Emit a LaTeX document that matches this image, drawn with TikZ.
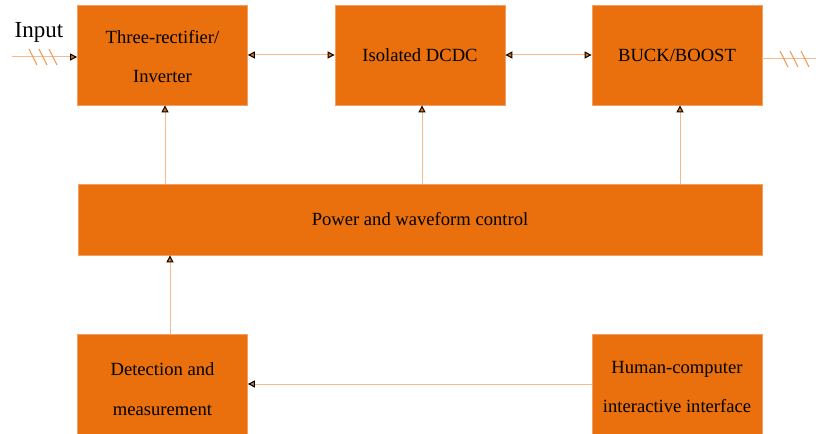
\documentclass[tikz,border=0pt]{standalone}
\usepackage{fontspec}
\setmainfont{Liberation Serif}
\usepackage{xcolor}
\usetikzlibrary{arrows.meta,calc,positioning}
\definecolor{blockfill}{RGB}{233,112,13}
\definecolor{blockedge}{RGB}{243,160,100}
\definecolor{wire}{RGB}{245,185,140}
\definecolor{hatch}{RGB}{240,150,80}
\begin{document}
\begin{tikzpicture}[x=1bp,y=-1bp,
	tip/.style={-{Triangle[length=7bp,width=7bp,fill=blockfill,color=black]}},
	twotip/.style={{Triangle[length=7bp,width=7bp,fill=blockfill,color=black]}-{Triangle[length=7bp,width=7bp,fill=blockfill,color=black]}},
	wireline/.style={draw=wire,line width=1bp},
	block/.style={draw=blockedge,fill=blockfill,line width=0.8bp,minimum width=170bp,minimum height=100bp,inner sep=0pt,align=center,font=\fontsize{18.6bp}{39.5bp}\selectfont}]
\useasboundingbox (0,0) rectangle (816,434);

\node[block](rect) at (162.5,55){\rule{0pt}{16bp}Three-rectifier/\\Inverter};
\node[block](dcdc) at (420,55){Isolated DCDC};
\node[block](buck) at (677,55){BUCK/BOOST};
\node[block,minimum width=684bp,minimum height=71bp](power) at (420,219.5){Power and waveform control};
\node[block](detect) at (162.5,384){\rule{0pt}{23bp}Detection and\\measurement};
\node[block](hci) at (677,384){\rule{0pt}{18bp}Human-computer\\interactive interface};

\node[font=\fontsize{23bp}{24bp}\selectfont,inner sep=0pt](input) at (39,32){Input};
\coordinate (in) at (12,57);
\coordinate (out) at (816,59);

\draw[wireline,tip](in)-- (in -| rect.west);
\draw[wireline](buck.east |- out)-- (out);
\foreach \x in {33,43,53}
	\draw[draw=hatch,line width=1bp]($(in)+(\x-16,-8)$)-- ($(in)+(\x-8,8)$);
\foreach \x in {-16,-6,5}
	\draw[draw=hatch,line width=1bp]($(out)+(\x-20,-8)$)-- ($(out)+(\x-12,8)$);

\draw[wireline,twotip](rect.east)-- (dcdc.west);
\draw[wireline,twotip](dcdc.east)-- (buck.west);

\draw[wireline,tip]([xshift=2.5bp]power.north -| rect.south)-- ([xshift=2.5bp]rect.south);
\draw[wireline,tip]([xshift=2bp]power.north -| dcdc.south)-- ([xshift=2bp]dcdc.south);
\draw[wireline,tip]([xshift=3bp]power.north -| buck.south)-- ([xshift=3bp]buck.south);
\draw[wireline,tip]([xshift=7.5bp]detect.north)-- ([xshift=7.5bp]detect.north |- power.south);
\draw[wireline,tip](hci.west)-- (detect.east);
\end{tikzpicture}
\end{document}
